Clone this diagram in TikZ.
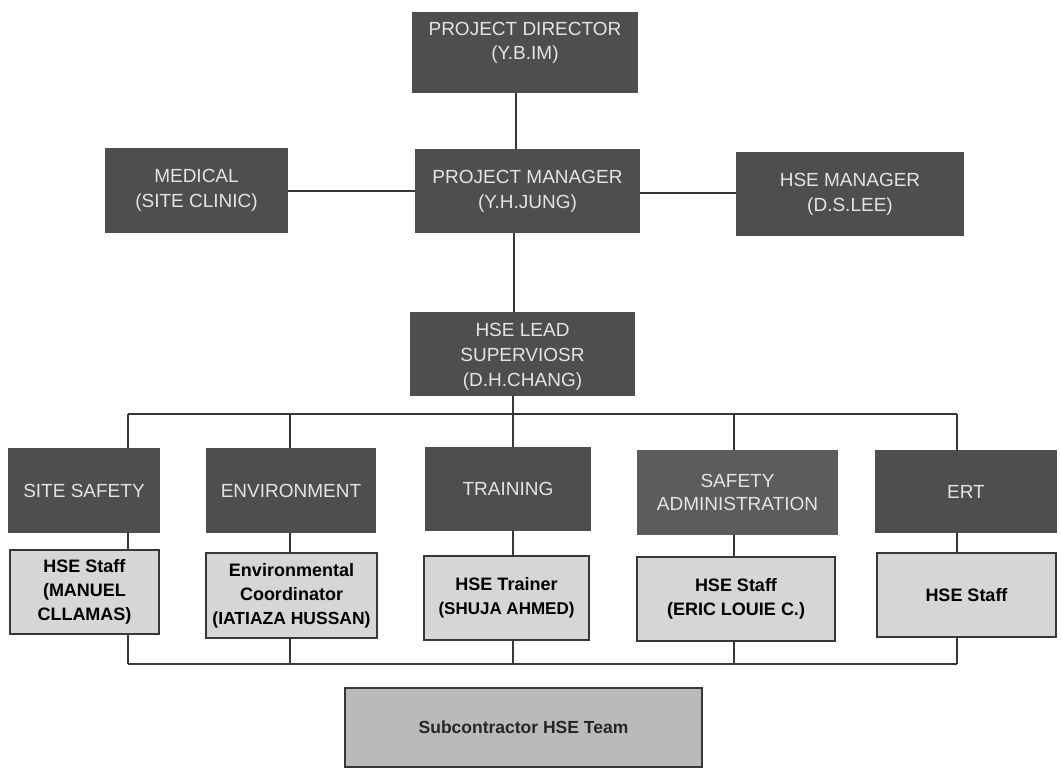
\documentclass[tikz,border=0pt]{standalone}
\usepackage{fontspec}
\setmainfont{Liberation Sans}
\definecolor{darkc}{RGB}{78,78,78}
\definecolor{sac}{RGB}{92,92,92}
\definecolor{darktext}{RGB}{228,228,228}
\definecolor{lightc}{RGB}{214,214,214}
\definecolor{subc}{RGB}{186,186,186}
\definecolor{linec}{RGB}{55,55,55}
\begin{document}
\begin{tikzpicture}[x=1pt,y=-1pt,
  darkbox/.style={rectangle, fill=darkc, text=darktext, align=center, inner sep=0pt,
    font=\fontsize{19}{25}\selectfont},
  dtext/.style={text=darktext, align=center, inner sep=0pt, font=\fontsize{19}{24}\selectfont},
  lightbox/.style={rectangle, draw=linec, line width=1.4pt, fill=lightc, text=black,
    align=center, inner sep=0pt, font=\bfseries\fontsize{18}{24}\selectfont},
  subbox/.style={lightbox, fill=subc, text=black!85},
  conn/.style={draw=linec, line width=1.5pt}]
\useasboundingbox (0,0) rectangle (1061,772);
\fill[white] (0,0) rectangle (1061,772);

% top level
\node[darkbox, minimum width=226pt, minimum height=81pt] (pd) at (525,52.5) {};
\node[dtext] (pdt) at (525,43) {PROJECT DIRECTOR\\(Y.B.IM)};
\node[darkbox, minimum width=183pt, minimum height=85pt] (med) at (196.5,190.5) {MEDICAL\\(SITE CLINIC)};
\node[darkbox, minimum width=225pt, minimum height=84pt] (pm) at (527.5,191) {PROJECT MANAGER\\(Y.H.JUNG)};
\node[darkbox, minimum width=228pt, minimum height=84pt] (hsem) at (850,194) {HSE MANAGER\\(D.S.LEE)};
\node[darkbox, minimum width=225pt, minimum height=84pt] (lead) at (522.5,354) {};
\node[dtext, font=\fontsize{19}{25}\selectfont] (leadt) at (522.5,357) {HSE LEAD\\SUPERVIOSR\\(D.H.CHANG)};

% departments
\node[darkbox, minimum width=152pt, minimum height=85pt] (ss) at (84,490.5) {SITE SAFETY};
\node[darkbox, minimum width=170pt, minimum height=85pt] (env) at (291,490.5) {ENVIRONMENT};
\node[darkbox, minimum width=166pt, minimum height=84pt] (tr) at (508,489) {TRAINING};
\node[darkbox, fill=sac, minimum width=201pt, minimum height=85pt, font=\fontsize{19}{23}\selectfont] (sa) at (737.5,492.5) {SAFETY\\ADMINISTRATION};
\node[darkbox, minimum width=182pt, minimum height=83pt] (ert) at (966,491.5) {ERT};

% staff
\node[lightbox, minimum width=149pt, minimum height=84pt] (l1) at (84.5,592) {HSE Staff\\(MANUEL\\CLLAMAS)};
\node[lightbox, minimum width=171pt, minimum height=85pt] (l2) at (291.5,595.5) {Environmental\\Coordinator\\{\fontsize{17.5}{24}\selectfont(IATIAZA HUSSAN)}};
\node[lightbox, minimum width=165pt, minimum height=84pt] (l3) at (506.5,598) {HSE Trainer\\{\fontsize{17}{24}\selectfont(SHUJA AHMED)}};
\node[lightbox, minimum width=198pt, minimum height=84pt] (l4) at (736,599) {HSE Staff\\(ERIC LOUIE C.)};
\node[lightbox, minimum width=179pt, minimum height=84pt] (l5) at (966.5,595) {HSE Staff};

\node[subbox, minimum width=357pt, minimum height=79pt, font=\bfseries\fontsize{17.5}{22}\selectfont] (sub) at (523.5,727.5) {Subcontractor HSE Team};

% coordinates for connector columns
\coordinate (ca) at (516,0);
\coordinate (cb) at (514,0);
\coordinate (c1) at (128,0);
\coordinate (c2) at (290,0);
\coordinate (c3) at (513,0);
\coordinate (c4) at (734,0);
\coordinate (c5) at (957,0);
\coordinate (bus) at (0,414);
\coordinate (bbus) at (0,664);

% connectors
\draw[conn] (pd.south -| ca) -- (pm.north -| ca);
\draw[conn] (med.east |- 0,191) -- (pm.west |- 0,191);
\draw[conn] (pm.east |- 0,193) -- (hsem.west |- 0,193);
\draw[conn] (pm.south -| cb) -- (lead.north -| cb);
\draw[conn] (lead.south -| c3) -- (bus -| c3);
\draw[conn] (bus -| c1) -- (bus -| c5);
\draw[conn] (bus -| c1) -- (ss.north -| c1);
\draw[conn] (bus -| c2) -- (env.north -| c2);
\draw[conn] (bus -| c3) -- (tr.north -| c3);
\draw[conn] (bus -| c4) -- (sa.north -| c4);
\draw[conn] (bus -| c5) -- (ert.north -| c5);
\draw[conn] (ss.south -| c1) -- (l1.north -| c1);
\draw[conn] (env.south -| c2) -- (l2.north -| c2);
\draw[conn] (tr.south -| c3) -- (l3.north -| c3);
\draw[conn] (sa.south -| c4) -- (l4.north -| c4);
\draw[conn] (ert.south -| c5) -- (l5.north -| c5);
\draw[conn] (l1.south -| c1) -- (bbus -| c1);
\draw[conn] (l2.south -| c2) -- (bbus -| c2);
\draw[conn] (l3.south -| c3) -- (bbus -| c3);
\draw[conn] (l4.south -| c4) -- (bbus -| c4);
\draw[conn] (l5.south -| c5) -- (bbus -| c5);
\draw[conn] (bbus -| c1) -- (bbus -| c5);
\end{tikzpicture}
\end{document}
